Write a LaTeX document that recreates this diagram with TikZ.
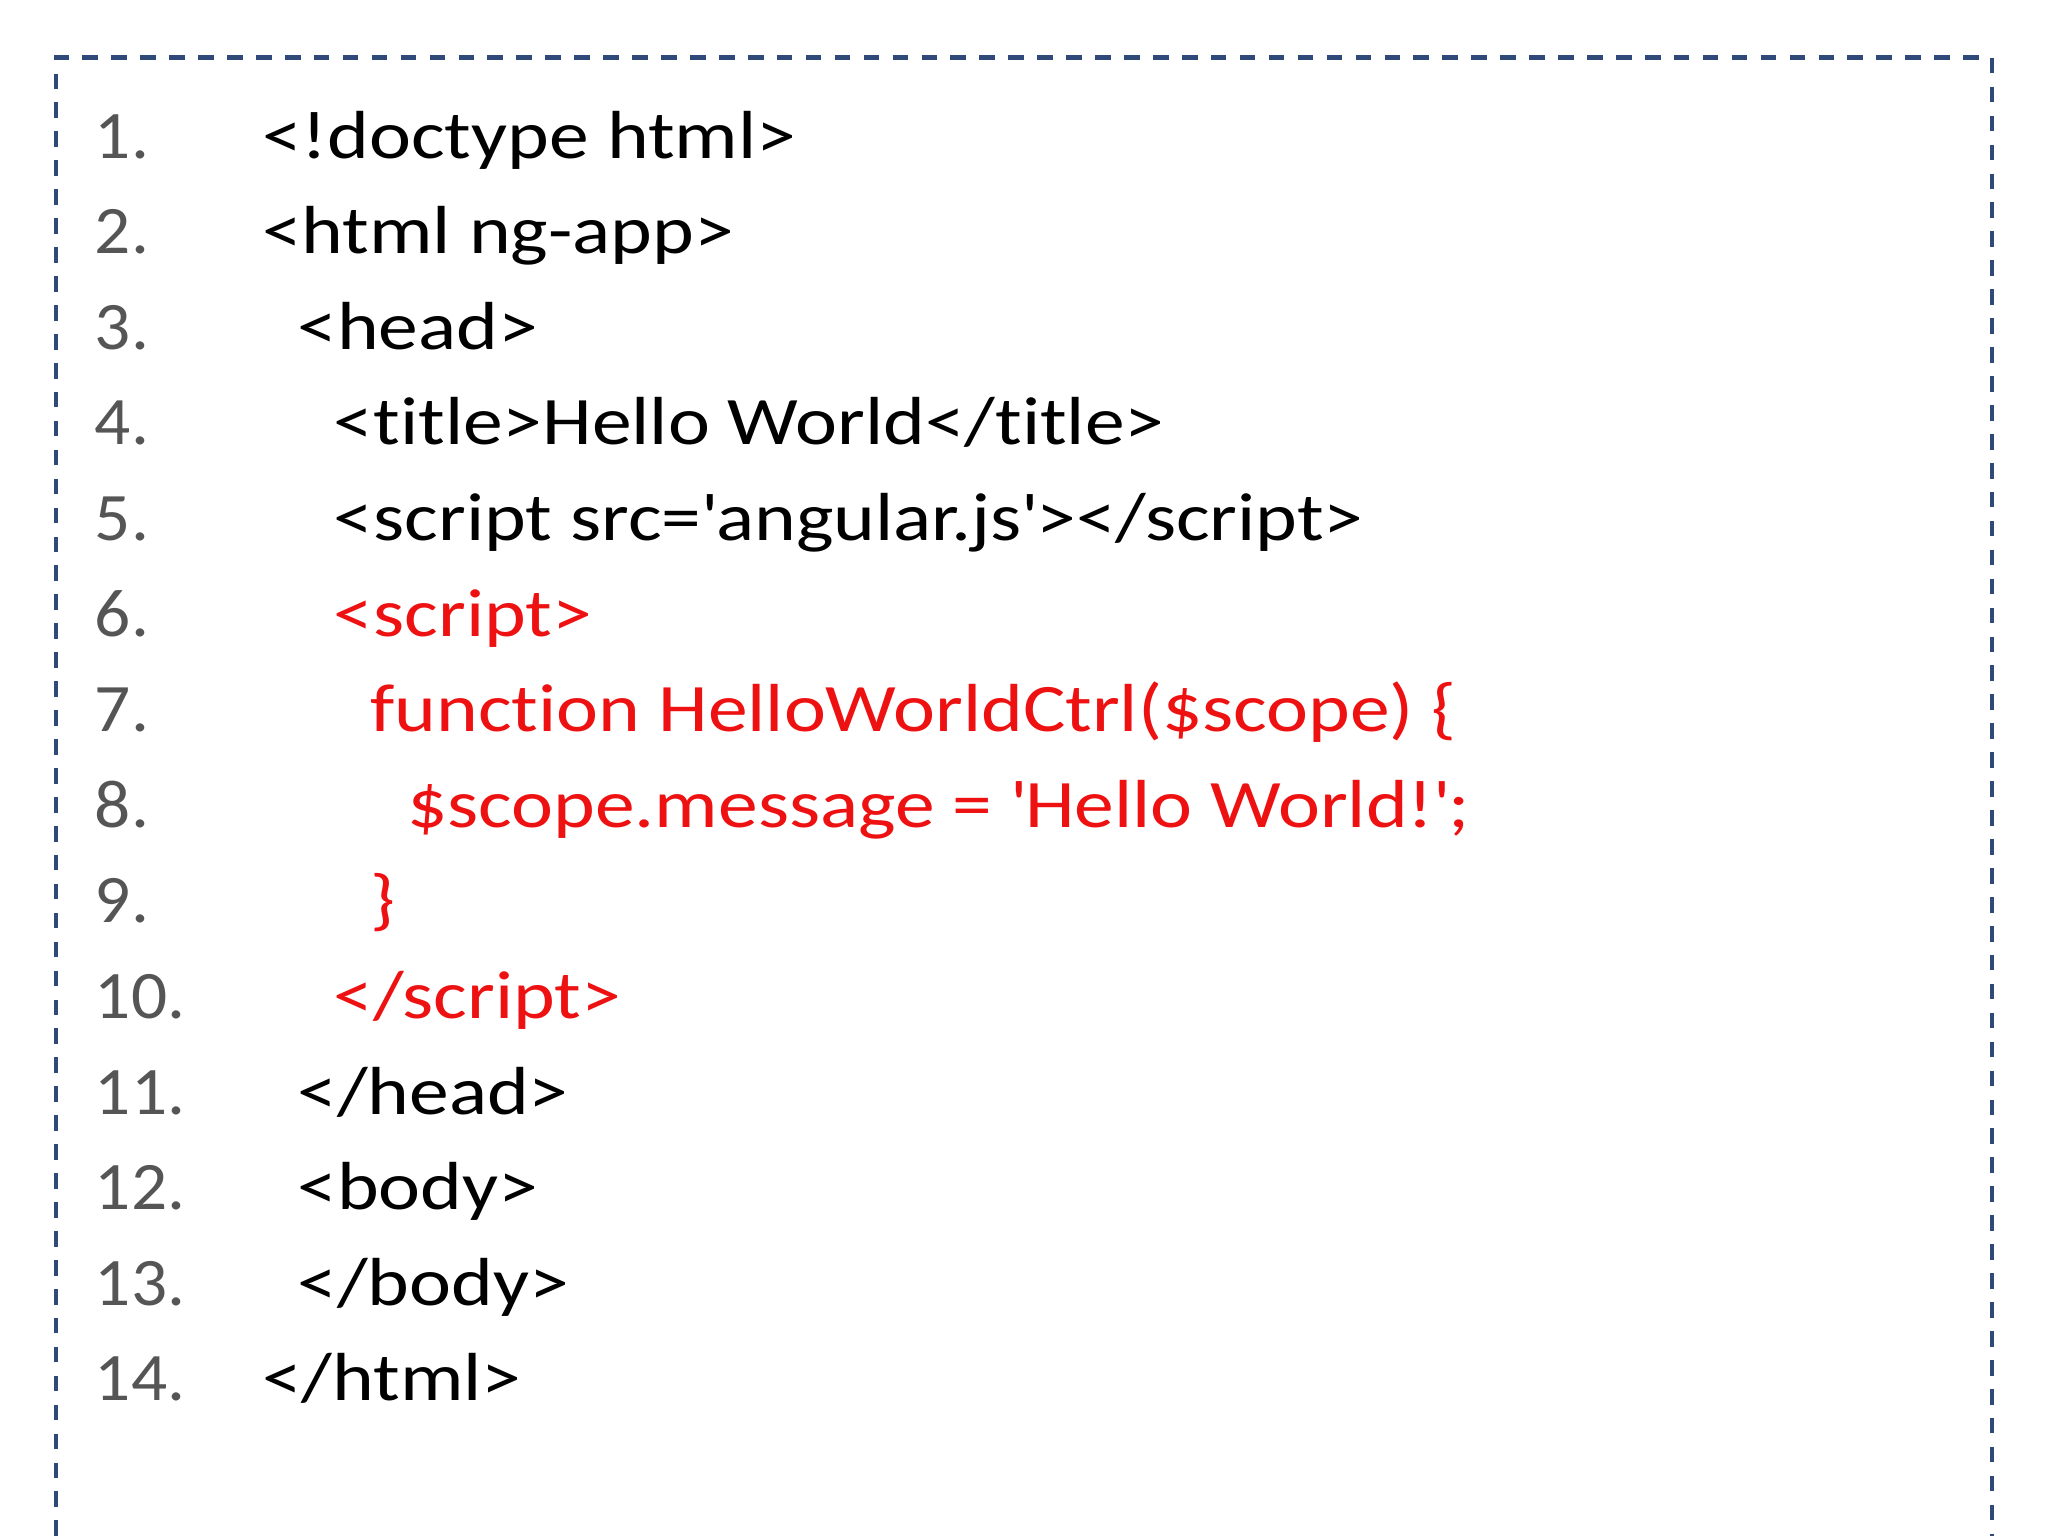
\documentclass[tikz,border=0pt]{standalone}
\usepackage{fontspec}
\setmainfont[FakeStretch=1.17,Ligatures={NoCommon}]{Carlito}
\newfontfamily\numfont[FakeStretch=1.05]{Carlito}
\definecolor{boxblue}{HTML}{2F4A78}
\definecolor{numgray}{HTML}{555555}
\definecolor{codered}{HTML}{EE1111}
\newcommand{\sq}{\textquotesingle}
\begin{document}
\begin{tikzpicture}[x=0.01cm,y=-0.01cm,
  num/.style={anchor=base west,inner sep=0pt,text=numgray,font=\numfont\fontsize{14.8}{16}\selectfont},
  code/.style={anchor=base west,inner sep=0pt,text=black,font=\fontsize{14.8}{16}\selectfont},
  red/.style={code,text=codered}]
\useasboundingbox (0,0) rectangle (1568,1176);
\draw[boxblue,line width=0.9pt,dash pattern=on 3.4pt off 2.9pt] (43,1176) -- (43,44) -- (1525,44) -- (1525,1176);
\foreach \i in {1,...,14} {
  \node[num] (n\i) at (72,{121+73.2*(\i-1)}) {\i.};
}
\node[code] (c1) at (200,121) {<!doctype html>};
\node[code] (c2) at (200,194.2) {<html ng-app>};
\node[code] (c3) at (227,267.4) {<head>};
\node[code] (c4) at (255,340.6) {<title>Hello World</title>};
\node[code] (c5) at (255,413.8) {<script src=\sq angular.js\sq></script>};
\node[red] (c6) at (255,487) {<script>};
\node[red] (c7) at (283,560.2) {function HelloWorldCtrl(\$scope) \{};
\node[red] (c8) at (311,633.4) {\$scope.message = \sq Hello World!\sq;};
\node[red] (c9) at (283,706.6) {\}};
\node[red] (c10) at (255,779.8) {</script>};
\node[code] (c11) at (227,853) {</head>};
\node[code] (c12) at (227,926.2) {<body>};
\node[code] (c13) at (227,999.4) {</body>};
\node[code] (c14) at (200,1072.6) {</html>};
\end{tikzpicture}
\end{document}
